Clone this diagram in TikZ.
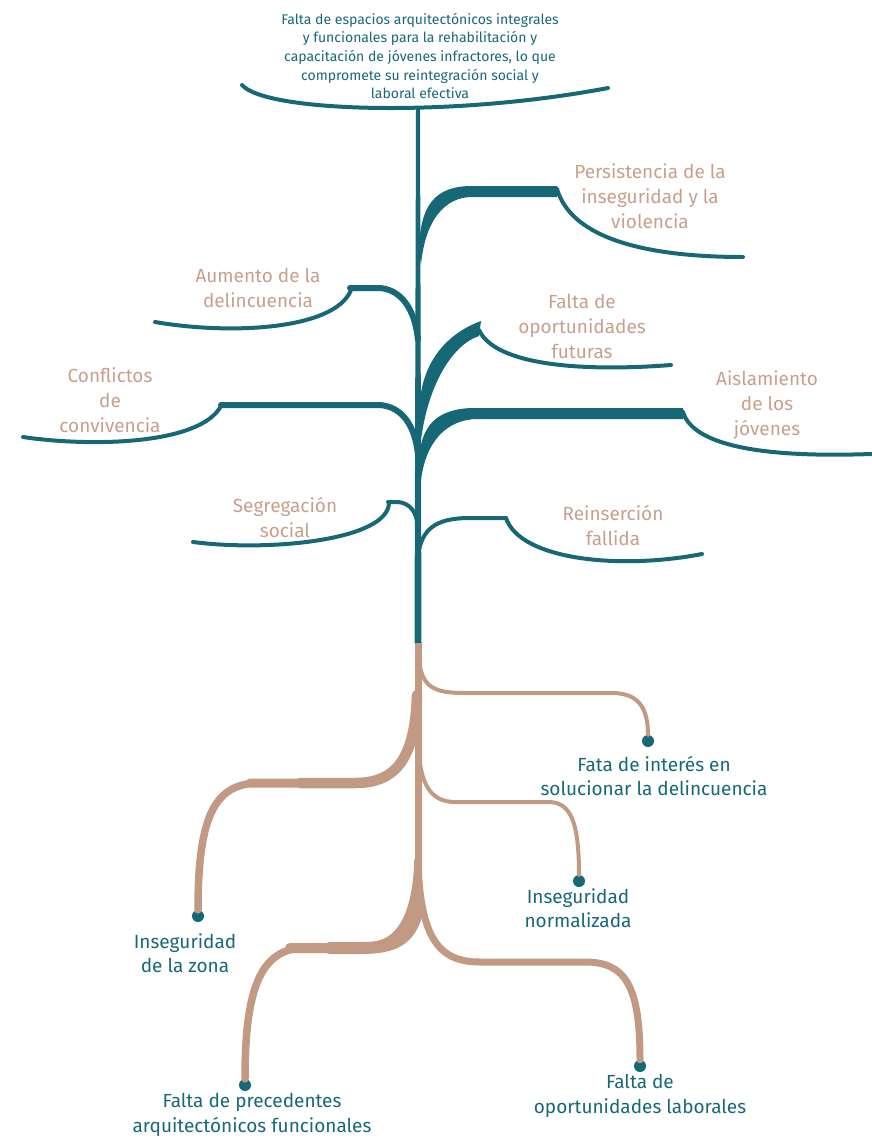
\documentclass[tikz,border=0pt]{standalone}
\usepackage{fontspec}
\setmainfont{Fira Sans}
\usepackage{xcolor}
\usetikzlibrary{calc}
\definecolor{stemteal}{HTML}{176877}
\definecolor{roottan}{HTML}{C29A84}
\definecolor{effecttan}{HTML}{C6A08C}

\begin{document}
\begin{tikzpicture}[x=1pt, y=-1pt, line cap=round, line join=round]
  \tikzstyle{stem}=[draw=stemteal, line width=4pt]
  \tikzstyle{twig}=[draw=stemteal, line width=6pt]
  \tikzstyle{root}=[draw=roottan, line width=4pt]
  \tikzstyle{effect}=[effecttan, align=center, inner sep=0pt, font=\fontsize{19}{25}\selectfont]
  \tikzstyle{cause}=[stemteal, align=center, inner sep=0pt, font=\fontsize{19}{24.5}\selectfont]
  \tikzstyle{tip}=[circle, fill=stemteal, inner sep=0pt, minimum size=12pt]
\useasboundingbox (0,0) rectangle (871,1140);

% problema central
\node[stemteal, align=center, inner sep=0pt, font=\fontsize{14}{18.7}\selectfont] (problema) at (420,56)
  {Falta de espacios arquitectónicos integrales\\y funcionales para la rehabilitación y\\capacitación de jóvenes infractores, lo que\\compromete su reintegración social y\\laboral efectiva};
\draw[stem] (242,85) .. controls (265,112) and (450,118) .. (608,88);

% tronco
\fill[stemteal] (416,108) -- (420,108) -- (421.5,644) -- (414.5,644) -- cycle;
\fill[roottan] (414.5,643) -- (421.5,643) -- (421.5,880) -- (414.5,880) -- cycle;

% efectos
\node[effect] (persist) at (650,196) {Persistencia de la\\inseguridad y la\\violencia};
\node[effect] (futuras) at (582,326) {Falta de\\oportunidades\\futuras};
\node[effect] (aislam) at (767,405) {Aislamiento\\de los\\jóvenes};
\node[effect] (aumento) at (258,288) {Aumento de la\\delincuencia};
\node[effect] (conflic) at (110,400) {Conflictos\\de\\convivencia};
\node[effect] (segreg) at (285,517) {Segregación\\social};
\node[effect] (reinser) at (613,525) {Reinserción\\fallida};

% ramas derechas
\fill[stemteal] (419,250) .. controls (420,205) and (435,186) .. (472,186) -- (557,186) -- (557,197)
  -- (472,197) .. controls (445,197) and (425,220) .. (421,265) -- cycle;
\draw[stem] (557,189) .. controls (572,240) and (650,257) .. (743,257);
\fill[stemteal] (420,400) .. controls (424,360) and (448,333) .. (481,321) -- (479,336)
  .. controls (452,345) and (428,385) .. (421,440) -- cycle;
\draw[stem] (479,330) .. controls (495,365) and (580,372) .. (671,365);
\fill[stemteal] (420,450) .. controls (424,423) and (440,408) .. (475,408) -- (683,408) -- (683,419)
  -- (478,419) .. controls (448,419) and (426,440) .. (421,480) -- cycle;
\draw[stem] (683,412) .. controls (693,445) and (760,458) .. (871,454);
\draw[stem] (419,550) .. controls (424,526) and (440,518) .. (470,518) -- (506,518);
\draw[stem] (506,518) .. controls (520,560) and (620,570) .. (702,554);

% ramas izquierdas
\draw[twig] (350,288) -- (380,288) .. controls (402,290) and (415,310) .. (418,340);
\draw[stem] (351,290) .. controls (335,330) and (230,335) .. (155,322);
\draw[twig] (221,405) -- (380,405) .. controls (402,407) and (415,425) .. (418,455);
\draw[stem] (221,406) .. controls (200,445) and (90,447) .. (23,437);
\draw[stem] (388,502) -- (398,502) .. controls (410,503) and (417,512) .. (418,528);
\draw[stem] (389,503) .. controls (388,540) and (270,552) .. (193,542);

% raices
\coordinate (r1) at (419,658);
\coordinate (r2) at (419,752);
\coordinate (l1) at (417,695);
\coordinate (fork) at (418,860);
\node[tip] (d1) at (648,741) {};
\node[tip] (d2) at (579,881) {};
\node[tip] (d3) at (198,916) {};
\node[tip] (d4) at (245,1085) {};
\node[tip] (d5) at (640,1066) {};
\draw[root] (r1) .. controls (421,688) and (435,693) .. (465,693) -- (612,693)
  .. controls (640,693) and (648,710) .. (d1);
\draw[root] (r2) .. controls (421,790) and (435,802) .. (455,802) -- (548,802)
  .. controls (570,802) and (579,820) .. (d2);
\draw[root, line width=7.5pt] (l1) .. controls (415,760) and (395,783) .. (355,783) -- (260,783)
  .. controls (215,783) and (198,815) .. (d3);
\draw[root, line width=9pt] (l1) .. controls (415,760) and (395,783) .. (355,783) -- (250,783);
\draw[root, line width=10.5pt] (l1) .. controls (415,760) and (395,783) .. (355,783) -- (300,783);
\draw[root, line width=7.5pt] (fork) .. controls (416,925) and (395,948) .. (360,948) -- (305,948)
  .. controls (260,948) and (245,990) .. (d4);
\draw[root, line width=10pt] (fork) ++(0,30) .. controls (414,928) and (395,948) .. (360,948) -- (290,948);
\draw[root, line width=12pt] (fork) ++(0,50) .. controls (410,940) and (395,948) .. (360,948) -- (330,948);
\draw[root, line width=7pt] (fork) .. controls (420,940) and (440,962) .. (480,962) -- (585,962)
  .. controls (625,962) and (640,985) .. (d5);

% causas
\node[cause] (interes) at (654,776) {Fata de interés en\\solucionar la delincuencia};
\node[cause] (normal) at (578,908) {Inseguridad\\normalizada};
\node[cause] (zona) at (185,953) {Inseguridad\\de la zona};
\node[cause] (preced) at (252,1115) {Falta de precedentes\\arquitectónicos funcionales};
\node[cause] (laboral) at (640,1096) {Falta de\\oportunidades laborales};
\end{tikzpicture}
\end{document}
